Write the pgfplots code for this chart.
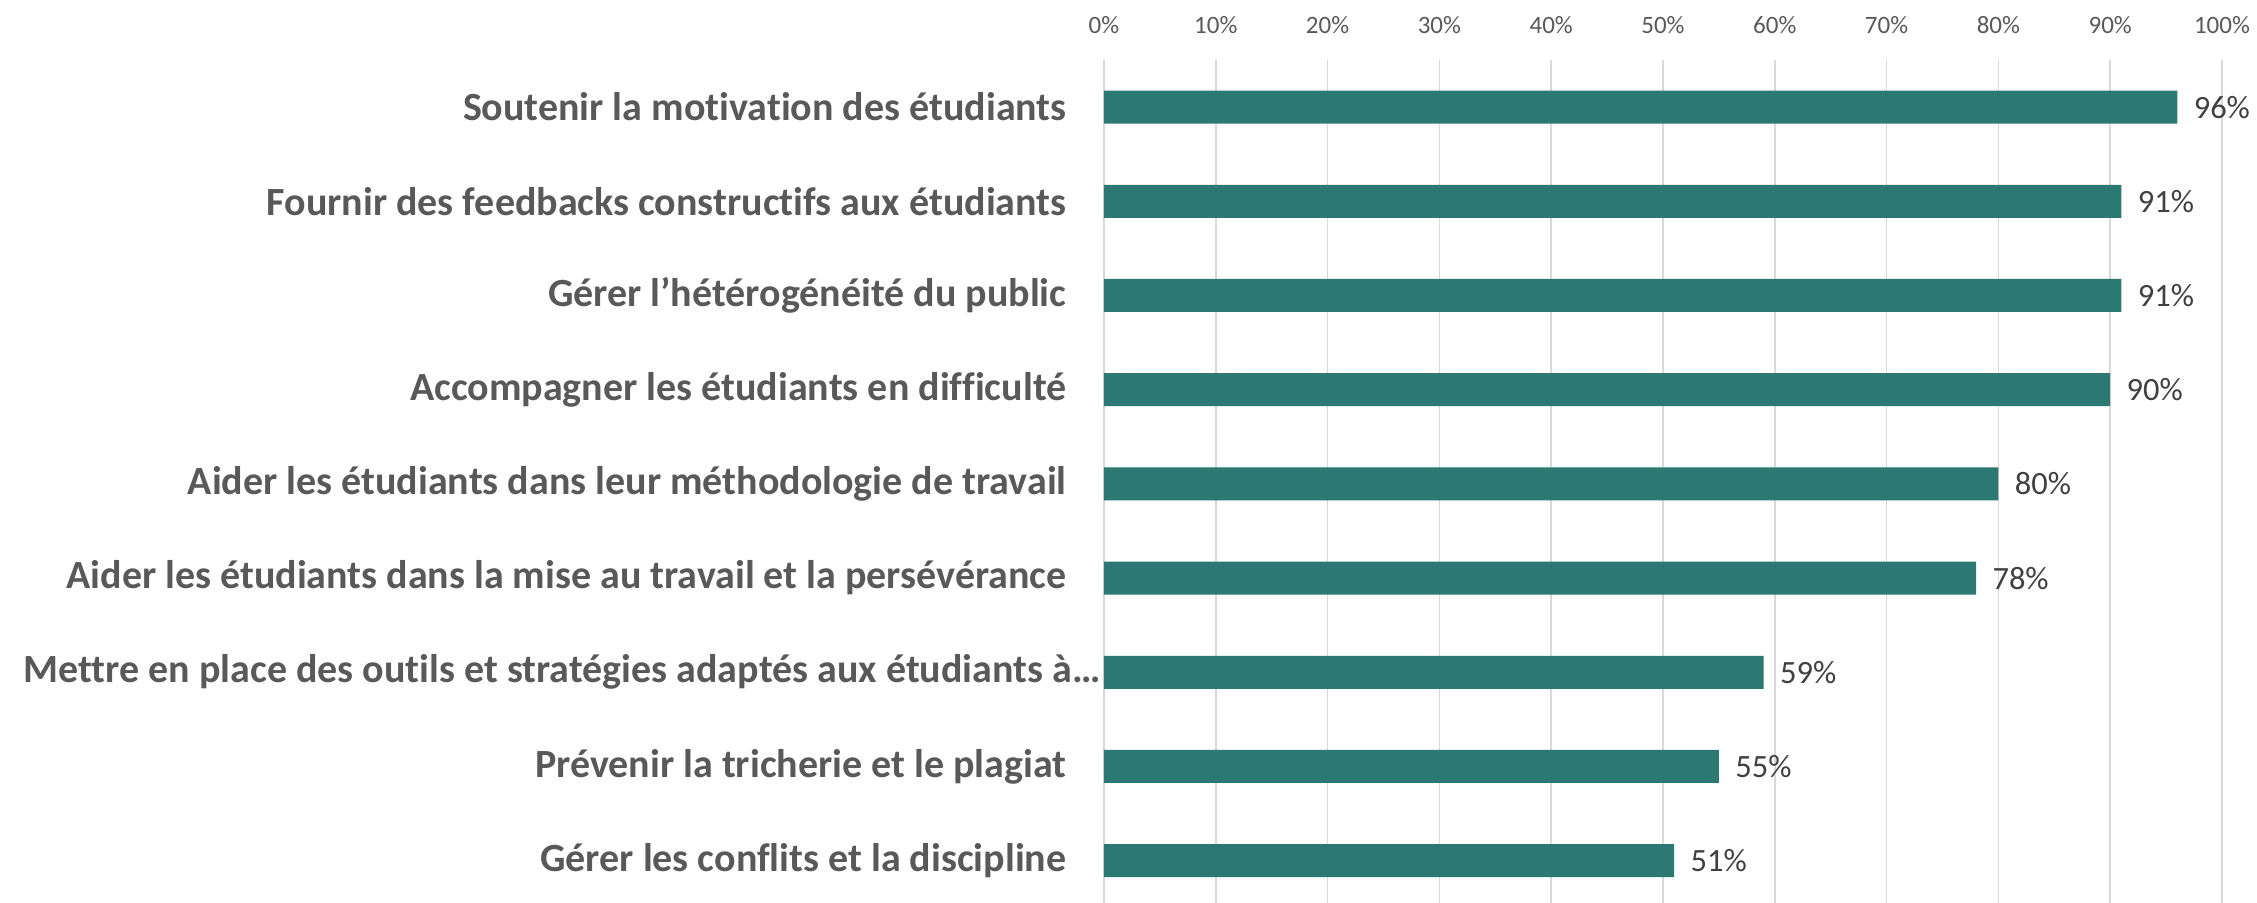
\documentclass[border=0pt]{standalone}
\usepackage{pgfplots}
\pgfplotsset{compat=1.18}
\usepackage{fontspec}
\setmainfont{Carlito}[Ligatures=NoCommon]

\definecolor{barteal}{RGB}{44,120,115}
\definecolor{labelgray}{RGB}{89,89,89}
\definecolor{valgray}{RGB}{64,64,64}
\definecolor{gridgray}{RGB}{217,217,217}

\begin{document}
\begin{tikzpicture}
\path[use as bounding box] (-441.6pt,24pt) rectangle (461.2pt,-337.2pt);
\begin{axis}[
  at={(0pt,0pt)}, anchor=north west,
  scale only axis, width=447.2pt, height=339.1pt,
  xbar, bar width=13.2pt,
  xmin=0, xmax=100, ymin=-0.5, ymax=8.5, y dir=reverse,
  enlargelimits=false,
  axis line style={draw=none},
  major tick length=0pt,
  xtick={0,10,...,100},
  xticklabels={0\%,10\%,20\%,30\%,40\%,50\%,60\%,70\%,80\%,90\%,100\%},
  xticklabel pos=upper,
  xticklabel style={font=\fontsize{10}{12}\selectfont, color=labelgray, anchor=base, yshift=10.8pt},
  xmajorgrids, grid style={color=gridgray, line width=0.7pt},
  ytick={0,...,8},
  yticklabels={
    Soutenir la motivation des étudiants,
    Fournir des feedbacks constructifs aux étudiants,
    Gérer l’hétérogénéité du public,
    Accompagner les étudiants en difficulté,
    Aider les étudiants dans leur méthodologie de travail,
    Aider les étudiants dans la mise au travail et la persévérance,
    {Mettre en place des outils et stratégies adaptés aux étudiants à…\hspace*{-13.6pt}},
    Prévenir la tricherie et le plagiat,
    Gérer les conflits et la discipline},
  yticklabel style={font=\bfseries\fontsize{16}{19}\selectfont, color=labelgray, anchor=east, inner sep=0pt, xshift=-14.8pt},
  point meta=x,
  nodes near coords={\pgfmathprintnumber[assume math mode=true]{\pgfplotspointmeta}\%},
  nodes near coords style={anchor=west, inner sep=0pt, xshift=6.4pt, font=\fontsize{13}{15}\selectfont, color=valgray},
]
\addplot[fill=barteal, draw=none] coordinates {
  (96,0) (91,1) (91,2) (90,3) (80,4) (78,5) (59,6) (55,7) (51,8)
};
\end{axis}
\end{tikzpicture}
\end{document}
